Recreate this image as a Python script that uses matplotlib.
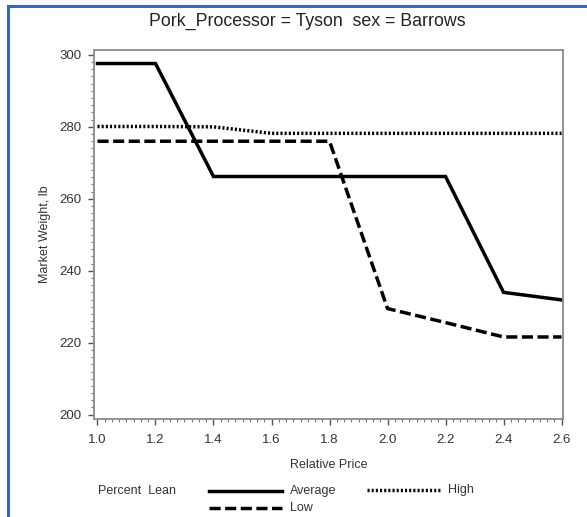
import matplotlib
matplotlib.use("Agg")
import matplotlib.pyplot as plt
from matplotlib.ticker import AutoMinorLocator, FixedLocator
from matplotlib.lines import Line2D

plt.rcParams['font.family'] = ['Liberation Sans', 'DejaVu Sans']

price = [1.0, 1.2, 1.4, 1.6, 1.8, 2.0, 2.2, 2.4, 2.6]
average = [297.6, 297.6, 266.2, 266.2, 266.2, 266.2, 266.2, 234.0, 231.9]
high = [280.1, 280.1, 280.0, 278.2, 278.2, 278.2, 278.2, 278.2, 278.2]
low = [276.0, 276.0, 276.0, 276.0, 276.0, 229.5, 225.6, 221.6, 221.6]
xticks = [1.0, 1.2, 1.4, 1.6, 1.8, 2.0, 2.2, 2.4, 2.6]
yticks = [200, 220, 240, 260, 280, 300]

W, H = 587, 517
fig = plt.figure(figsize=(W / 100, H / 100), dpi=100)
ax = fig.add_axes([94 / W, 1 - 419 / H, (563 - 94) / W, (419 - 49.5) / H])

ax.plot(price, average, color='black', lw=2.5, solid_joinstyle='miter')
ax.plot(price, high, color='black', lw=2.5, linestyle=(0, (0.6, 0.6)))
ax.plot(price, low, color='black', lw=2.5, linestyle=(0, (3.2, 1.3)))

ax.set_xlim(0.988, 2.605)
ax.set_ylim(198.8, 301.5)
ax.xaxis.set_major_locator(FixedLocator(xticks))
ax.yaxis.set_major_locator(FixedLocator(yticks))
ax.set_xticklabels([f"{v:.1f}" for v in xticks])
ax.set_yticklabels([str(v) for v in yticks])
ax.xaxis.set_minor_locator(AutoMinorLocator(8))
ax.yaxis.set_minor_locator(AutoMinorLocator(10))
ax.tick_params(which='major', direction='out', length=4, width=1, color='#555555',
               labelsize=9.5, labelcolor='#333333', pad=5)
ax.tick_params(axis='x', which='major', pad=7)
ax.tick_params(which='minor', direction='out', length=2, width=0.8, color='#777777')
for s in ax.spines.values():
    s.set_color('#8a8a8a')
    s.set_linewidth(1.3)

ax.set_xlabel('Relative Price', fontsize=9, color='#333333', labelpad=9)
ax.set_ylabel('Market Weight, lb', fontsize=9, color='#333333', labelpad=6)

fig.text(307 / W, 1 - 21 / H, 'Pork_Processor = Tyson  sex = Barrows',
         ha='center', va='center', fontsize=12.8, color='#222222')

# legend
def fy(y):
    return 1 - y / H

def fx(x):
    return x / W

fig.text(fx(98), fy(491), 'Percent  Lean', fontsize=9, color='#333333', va='center', ha='left')
fig.add_artist(Line2D([fx(209), fx(282)], [fy(491), fy(491)], color='black', lw=2.5))
fig.text(fx(290), fy(491), 'Average', fontsize=9, color='#333333', va='center', ha='left')
fig.add_artist(Line2D([fx(367), fx(440)], [fy(490), fy(490)], color='black', lw=2.5,
                      linestyle=(0, (0.6, 0.6))))
fig.text(fx(448), fy(490), 'High', fontsize=9, color='#333333', va='center', ha='left')
fig.add_artist(Line2D([fx(209), fx(282)], [fy(508), fy(508)], color='black', lw=2.5,
                      linestyle=(0, (3.2, 1.3))))
fig.text(fx(290), fy(508), 'Low', fontsize=9, color='#333333', va='center', ha='left')

# blue frame
fig.add_artist(Line2D([fx(7.5), fx(7.5)], [0, fy(5.5)], color='#2b6cc0', lw=2.2))
fig.add_artist(Line2D([fx(7.5), 1], [fy(5.5), fy(5.5)], color='#2b6cc0', lw=2.2))

fig.savefig('out.png', dpi=100)
